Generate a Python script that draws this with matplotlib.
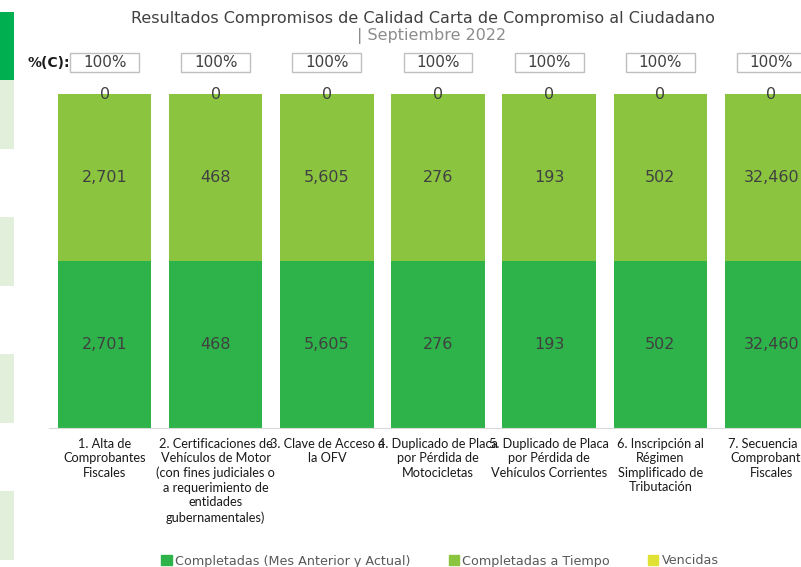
import matplotlib.pyplot as plt
import matplotlib.patches as mpatches
import matplotlib.transforms as mtransforms
import numpy as np

# categories as printed under the bars
categorias = [
    "1. Alta de\nComprobantes\nFiscales",
    "2. Certificaciones de\nVehículos de Motor\n(con fines judiciales o\na requerimiento de\nentidades\ngubernamentales)",
    "3. Clave de Acceso a\nla OFV",
    "4. Duplicado de Placa\npor Pérdida de\nMotocicletas",
    "5. Duplicado de Placa\npor Pérdida de\nVehículos Corrientes",
    "6. Inscripción al\nRégimen\nSimplificado de\nTributación",
    "7. Secuencia de\nComprobantes\nFiscales",
]
completadas = [2701, 468, 5605, 276, 193, 502, 32460]
a_tiempo = [2701, 468, 5605, 276, 193, 502, 32460]
vencidas = [0, 0, 0, 0, 0, 0, 0]
pct_c = ["100%", "100%", "100%", "100%", "100%", "100%", "100%"]

c_comp = "#2db34a"
c_tiempo = "#8bc540"
c_venc = "#dfe235"
txt = "#404040"

W, H = 801, 567
fig = plt.figure(figsize=(W / 100, H / 100), dpi=100)

# axes runs past the right edge, like the cropped original
ax = fig.add_axes([49 / W, (H - 428) / H, 778 / W, 334 / H])

x = np.arange(len(categorias))
comp = np.array(completadas, dtype=float)
tiem = np.array(a_tiempo, dtype=float)
venc = np.array(vencidas, dtype=float)
tot = comp + tiem + venc

series = [
    (comp / tot, completadas, c_comp, "Completadas (Mes Anterior y Actual)"),
    (tiem / tot, a_tiempo, c_tiempo, "Completadas a Tiempo"),
    (venc / tot, vencidas, c_venc, "Vencidas"),
]

bottom = np.zeros(len(x))
handles = []
for frac, vals, col, lab in series:
    ax.bar(x, frac, 0.84, bottom=bottom, color=col, label=lab)
    for xi, b, f, v in zip(x, bottom, frac, vals):
        ax.text(xi, b + f / 2, f"{v:,}", ha="center", va="center",
                fontsize=11.5, color=txt, family="DejaVu Sans")
    bottom = bottom + frac
    handles.append(mpatches.Patch(color=col, label=lab))

ax.set_xlim(-0.5, len(x) - 0.5)
ax.set_ylim(0, 1)
for s in ["top", "right", "left"]:
    ax.spines[s].set_visible(False)
ax.spines["bottom"].set_color("#d9d9d9")
ax.set_yticks([])
ax.set_xticks(x)
ax.set_xticklabels(categorias, fontsize=9.2, color="#1a1a1a", family="Lato",
                   linespacing=1.25)
ax.tick_params(axis="x", length=0, pad=7)

# %(C) boxes above each bar
tr = mtransforms.blended_transform_factory(ax.transData, ax.transAxes)
for xi, p in zip(x, pct_c):
    ax.add_patch(mpatches.Rectangle((xi - 0.31, 1.066), 0.62, 0.057, transform=tr,
                                    facecolor="white", edgecolor="#bfbfbf",
                                    lw=1, clip_on=False))
    ax.text(xi, 1.095, p, transform=tr, ha="center", va="center",
            fontsize=11, color=txt, family="DejaVu Sans")
fig.text(28 / W, 1 - 63 / H, "%(C):", fontsize=10, fontweight="bold",
         color="#1a1a1a", va="center", ha="left")

# title
fig.text(423 / W, 1 - 18 / H,
         "Resultados Compromisos de Calidad Carta de Compromiso al Ciudadano",
         ha="center", va="center", fontsize=11.5, color=txt, family="DejaVu Sans")
fig.text(432 / W, 1 - 36 / H, "| Septiembre 2022", ha="center", va="center",
         fontsize=11.5, color="#8c8c8c", family="DejaVu Sans")

# strip from the neighbouring panel at the left edge
fig.patches.append(mpatches.Rectangle((0, 1 - 80 / H), 14 / W, 68 / H,
                                      transform=fig.transFigure,
                                      facecolor="#00b050", edgecolor="none"))
for y0, y1 in [(80, 149), (217, 286), (354, 423), (491, 560)]:
    fig.patches.append(mpatches.Rectangle((0, 1 - y1 / H), 14 / W, (y1 - y0) / H,
                                          transform=fig.transFigure,
                                          facecolor="#e2efda", edgecolor="none"))

fig.legend(handles=handles, loc="center", bbox_to_anchor=(440 / W, 1 - 561 / H),
           ncol=3, frameon=False, fontsize=9.2, handlelength=0.8,
           handleheight=0.8, handletextpad=0.25, columnspacing=3.0,
           labelcolor="#595959")

fig.savefig("out.png", dpi=100)
